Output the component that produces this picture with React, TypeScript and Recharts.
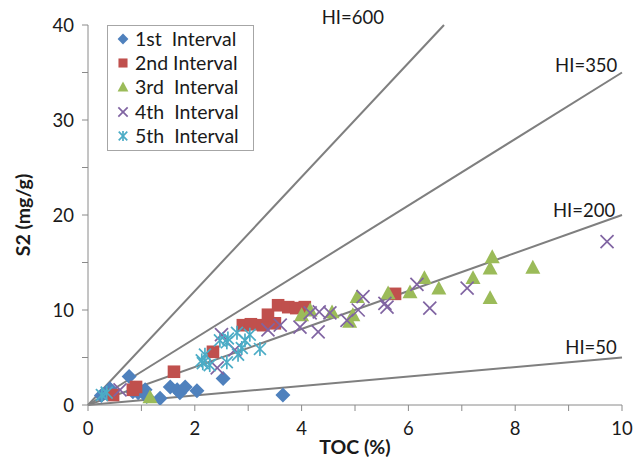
import React from 'react';
import { ScatterChart, Scatter, XAxis, YAxis, ReferenceLine, ReferenceDot } from 'recharts';

const FONT = 'Lato, "Open Sans", sans-serif';

const interval1: [number, number][] = [
  [0.25, 1.0], [0.41, 1.7], [0.77, 3.0], [0.84, 1.4], [0.94, 1.3], [1.07, 1.6], [1.1, 0.9],
  [1.35, 0.7], [1.54, 1.9], [1.67, 1.6], [1.72, 1.3], [1.82, 1.9], [2.04, 1.5], [2.53, 2.8], [3.65, 1.05],
];
const interval2: [number, number][] = [
  [0.47, 1.05], [0.84, 1.6], [0.9, 1.9], [1.61, 3.5], [2.34, 5.6], [2.9, 8.4], [3.05, 8.5],
  [3.28, 8.4], [3.37, 9.5], [3.5, 8.6], [3.56, 10.5], [3.75, 10.3], [3.9, 10.2], [4.06, 10.3], [5.75, 11.7],
];
const interval3: [number, number][] = [
  [1.16, 0.85], [4.0, 9.5], [4.16, 10.0], [4.57, 9.8], [4.9, 8.8], [4.96, 9.5], [5.04, 11.4],
  [5.62, 11.8], [6.03, 11.9], [6.3, 13.4], [6.57, 12.3], [7.21, 13.4], [7.53, 14.4], [7.57, 15.6],
  [7.53, 11.3], [8.33, 14.5],
];
const interval4: [number, number][] = [
  [0.6, 1.6], [2.42, 3.9], [2.5, 7.4], [2.75, 5.8], [3.37, 7.9], [3.6, 8.4], [3.97, 8.2],
  [4.16, 9.7], [4.31, 7.7], [4.33, 9.8], [4.53, 9.7], [4.85, 8.9], [5.06, 10.0], [5.15, 11.4],
  [5.56, 10.7], [5.6, 10.3], [6.16, 12.7], [6.4, 10.2], [7.1, 12.3], [9.72, 17.2],
];
const interval5: [number, number][] = [
  [0.26, 1.05], [0.35, 1.3], [2.13, 4.7], [2.15, 4.4], [2.19, 5.3], [2.28, 4.2], [2.47, 6.8],
  [2.6, 4.5], [2.6, 6.6], [2.62, 7.0], [2.79, 7.6], [2.81, 5.3], [2.88, 6.0], [2.94, 6.8],
  [3.03, 7.4], [3.22, 5.9],
];

const seriesNames = ['1st  Interval', '2nd Interval', '3rd  Interval', '4th  Interval', '5th  Interval'];
const seriesColors = ['#4F81BD', '#C0504D', '#9BBB59', '#8064A2', '#4BACC6'];
const seriesKinds = ['diamond', 'square', 'triangle', 'cross', 'star'];
const seriesData = [interval1, interval2, interval3, interval4, interval5];

const hiValues = [600, 350, 200, 50];
const hiLabels = ['HI=600', 'HI=350', 'HI=200', 'HI=50'];
const hiLabelPos: [number, number][] = [[4.96, 40.8], [9.33, 35.8], [9.29, 20.5], [9.42, 6.1]];

const xTicks = [0, 1, 2, 3, 4, 5, 6, 7, 8, 9, 10];
const yTicks = [0, 5, 10, 15, 20, 25, 30, 35, 40];

function Marker({ kind, cx, cy, color, s = 1 }: { kind: string; cx: number; cy: number; color: string; s?: number }) {
  if (kind === 'diamond') {
    const r = 7.5 * s;
    return <polygon points={`${cx},${cy - r} ${cx + r},${cy} ${cx},${cy + r} ${cx - r},${cy}`} fill={color} />;
  }
  if (kind === 'square') {
    const r = 6.3 * s;
    return <rect x={cx - r} y={cy - r} width={2 * r} height={2 * r} fill={color} />;
  }
  if (kind === 'triangle') {
    const r = 7.5 * s;
    return <polygon points={`${cx},${cy - r} ${cx + r},${cy + r * 0.85} ${cx - r},${cy + r * 0.85}`} fill={color} />;
  }
  if (kind === 'cross') {
    const r = 6.5 * s;
    return (
      <g stroke={color} strokeWidth={1.7}>
        <line x1={cx - r} y1={cy - r} x2={cx + r} y2={cy + r} />
        <line x1={cx - r} y1={cy + r} x2={cx + r} y2={cy - r} />
      </g>
    );
  }
  const r = 7 * s;
  return (
    <g stroke={color} strokeWidth={1.7}>
      <line x1={cx - r * 0.85} y1={cy - r * 0.85} x2={cx + r * 0.85} y2={cy + r * 0.85} />
      <line x1={cx - r * 0.85} y1={cy + r * 0.85} x2={cx + r * 0.85} y2={cy - r * 0.85} />
      <line x1={cx} y1={cy - r} x2={cx} y2={cy + r} />
    </g>
  );
}

function LegendBox() {
  return (
    <div
      style={{
        position: 'absolute',
        left: 107,
        top: 25,
        border: '1px solid #a6a6a6',
        background: '#fff',
        width: 145,
        padding: '1px 0 2px 0',
        fontFamily: FONT,
        fontSize: 19.5,
        color: '#1a1a1a',
        boxSizing: 'content-box',
      }}
    >
      {seriesNames.map((n, i) => (
        <div key={n} style={{ display: 'flex', alignItems: 'center', height: 24.2, lineHeight: '24px' }}>
          <svg width={26} height={20} style={{ display: 'block' }}>
            <Marker kind={seriesKinds[i]} cx={15} cy={10} color={seriesColors[i]} s={0.72} />
          </svg>
          <span style={{ whiteSpace: 'pre', marginLeft: 1 }}>{n}</span>
        </div>
      ))}
    </div>
  );
}

export default function App() {
  return (
    <div style={{ position: 'absolute', left: 0, top: 0, width: 637, height: 467, background: '#fff' }}>
      <ScatterChart width={637} height={467} margin={{ top: 25, right: 15, bottom: 0, left: 0 }}>
        <XAxis
          type="number"
          dataKey="x"
          domain={[0, 10]}
          ticks={xTicks}
          allowDataOverflow
          height={62}
          tickSize={6}
          tickMargin={11}
          stroke="#8a8a8a"
          tickFormatter={(v: number) => (v % 2 === 0 ? String(v) : '')}
          tick={{ fill: '#1a1a1a', fontSize: 18.5, fontFamily: FONT }}
          label={{
            content: (p: any) => (
              <text
                x={p.viewBox.x + p.viewBox.width / 2}
                y={p.viewBox.y + 49}
                textAnchor="middle"
                fontFamily={FONT}
                fontWeight="bold"
                fontSize={19.5}
                fill="#1a1a1a"
              >
                TOC (%)
              </text>
            ),
          }}
        />
        <YAxis
          type="number"
          dataKey="y"
          domain={[0, 40]}
          ticks={yTicks}
          allowDataOverflow
          width={88}
          tickSize={6}
          tickMargin={8}
          stroke="#8a8a8a"
          tickFormatter={(v: number) => (v % 10 === 0 ? String(v) : '')}
          tick={{ fill: '#1a1a1a', fontSize: 18.5, fontFamily: FONT }}
          label={{
            content: (p: any) => {
              const cx = 22;
              const cy = p.viewBox.y + p.viewBox.height / 2;
              return (
                <text
                  x={cx}
                  y={cy}
                  transform={`rotate(-90 ${cx} ${cy})`}
                  textAnchor="middle"
                  dominantBaseline="central"
                  fontFamily={FONT}
                  fontWeight="bold"
                  fontSize={19.5}
                  fill="#1a1a1a"
                >
                  S2 (mg/g)
                </text>
              );
            },
          }}
        />
        {hiValues.map((hi) => {
          const xe = Math.min(10, 40 / (hi / 100));
          return (
            <ReferenceLine
              key={hi}
              segment={[{ x: 0, y: 0 }, { x: xe, y: (hi / 100) * xe }]}
              stroke="#7f7f7f"
              strokeWidth={2}
              ifOverflow="visible"
            />
          );
        })}
        {hiLabels.map((t, i) => (
          <ReferenceDot
            key={t}
            x={hiLabelPos[i][0]}
            y={hiLabelPos[i][1]}
            ifOverflow="visible"
            shape={(p: any) => (
              <text
                x={p.cx}
                y={p.cy}
                textAnchor="middle"
                dominantBaseline="central"
                fontFamily={FONT}
                fontSize={18.5}
                fill="#1a1a1a"
              >
                {t}
              </text>
            )}
          />
        ))}
        {seriesData.map((d, i) => (
          <Scatter
            key={seriesNames[i]}
            name={seriesNames[i]}
            data={d.map(([x, y]) => ({ x, y }))}
            fill={seriesColors[i]}
            isAnimationActive={false}
            shape={(p: any) => <Marker kind={seriesKinds[i]} cx={p.cx} cy={p.cy} color={seriesColors[i]} />}
          />
        ))}
      </ScatterChart>
      <LegendBox />
    </div>
  );
}
